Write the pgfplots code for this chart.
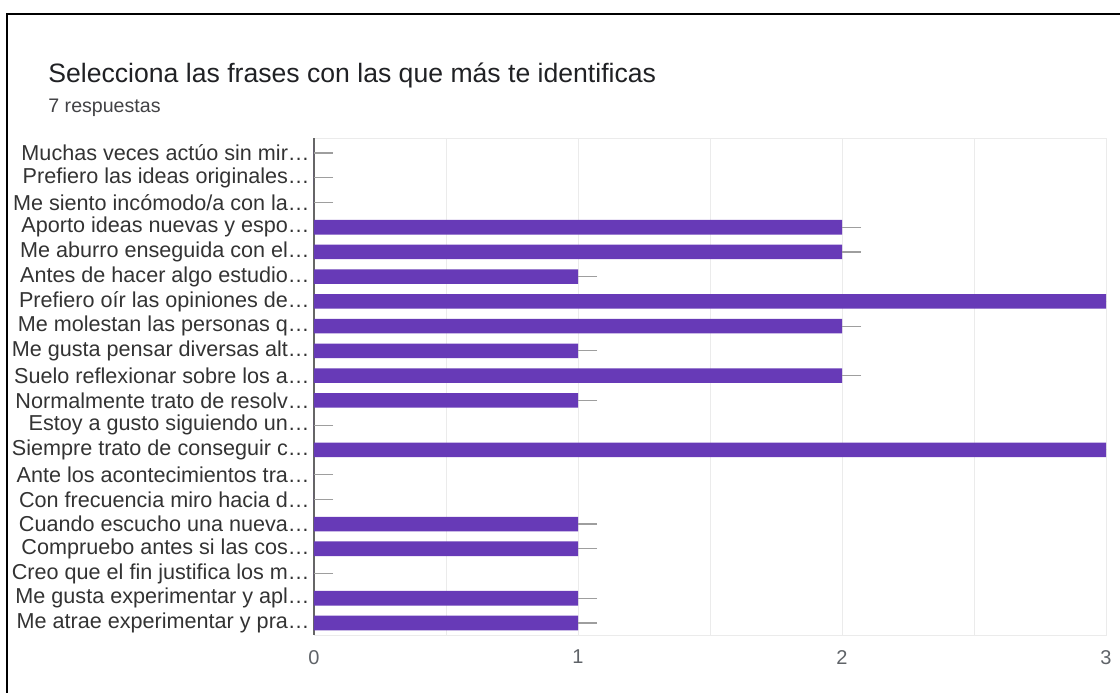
\documentclass[border=0pt]{standalone}
\usepackage{fontspec}
\setmainfont{Liberation Sans}
\usepackage{pgfplots}
\pgfplotsset{compat=1.18}
\usepackage{pgfplotstable}

\definecolor{barpurple}{HTML}{673AB7}
\definecolor{gridgrey}{HTML}{EBEBEB}
\definecolor{axisgrey}{HTML}{666666}
\definecolor{whisker}{HTML}{9E9E9E}
\definecolor{labelgrey}{HTML}{333333}
\definecolor{tickgrey}{HTML}{5F6368}
\definecolor{titlegrey}{HTML}{202124}

% one row per statement, top to bottom
\pgfplotstableread{
pos count
0  0
1  0
2  0
3  2
4  2
5  1
6  3
7  2
8  1
9  2
10 1
11 0
12 3
13 0
14 0
15 1
16 1
17 0
18 1
19 1
}\respuestas

\begin{document}
\begin{tikzpicture}
\useasboundingbox (0pt,0pt) rectangle (560pt,346pt);
% frame of the screenshot
\draw[line width=1.1pt] (3.5pt,-2pt) -- (3.5pt,339pt) -- (562pt,339pt);
\node[anchor=base west, font=\fontsize{13.3}{15}\selectfont, text=titlegrey, inner sep=0pt]
  at (24pt,304.5pt) {Selecciona las frases con las que más te identificas};
\node[anchor=base west, font=\fontsize{9.8}{12}\selectfont, text=titlegrey!85, inner sep=0pt]
  at (24pt,289.5pt) {7 respuestas};
\begin{axis}[
    at={(157pt,28.5pt)}, anchor=south west,
    scale only axis,
    width=396pt, height=248.5pt,
    xmin=0, xmax=3,
    ymin=-0.606, ymax=19.485,
    y dir=reverse,
    axis line style={gridgrey},
    xtick={0,1,2,3},
    minor xtick={0.5,1.5,2.5},
    xmajorgrids, xminorgrids,
    major grid style={gridgrey, line width=0.5pt},
    minor grid style={gridgrey, line width=0.5pt},
    extra x ticks={0},
    extra x tick labels={},
    extra x tick style={grid=major, major grid style={axisgrey, line width=0.8pt}},
    tick style={draw=none},
    xticklabel style={font=\fontsize{10}{12}\selectfont, text=tickgrey, yshift=-4pt},
    /pgf/number format/assume math mode=true,
    ytick={0,...,19},
    yticklabels={
      {Muchas veces actúo sin mir…},
      {Prefiero las ideas originales…},
      {Me siento incómodo/a con la…},
      {Aporto ideas nuevas y espo…},
      {Me aburro enseguida con el…},
      {Antes de hacer algo estudio…},
      {Prefiero oír las opiniones de…},
      {Me molestan las personas q…},
      {Me gusta pensar diversas alt…},
      {Suelo reflexionar sobre los a…},
      {Normalmente trato de resolv…},
      {Estoy a gusto siguiendo un…},
      {Siempre trato de conseguir c…},
      {Ante los acontecimientos tra…},
      {Con frecuencia miro hacia d…},
      {Cuando escucho una nueva…},
      {Compruebo antes si las cos…},
      {Creo que el fin justifica los m…},
      {Me gusta experimentar y apl…},
      {Me atrae experimentar y pra…},
    },
    yticklabel style={font=\fontsize{10.8}{12}\selectfont, text=labelgrey, anchor=east, inner sep=0pt, xshift=-2pt},
]
\addplot[
    xbar, bar width=7.3pt, bar shift=0pt,
    fill=barpurple, draw=none,
    error bars/.cd, x dir=plus, x fixed=0.072, error mark=none,
    error bar style={whisker, line width=0.6pt},
] table[x=count, y=pos] {\respuestas};
\end{axis}
\end{tikzpicture}
\end{document}
